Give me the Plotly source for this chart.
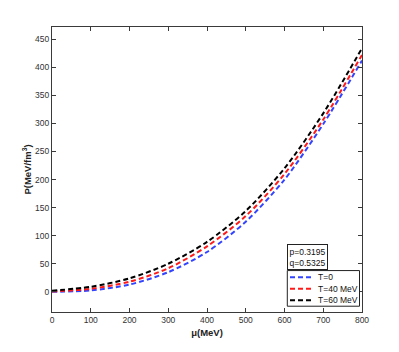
import plotly.graph_objects as go

mu = [0, 100, 200, 300, 400, 500, 600, 700, 800]
p_t0 = [0, 2.5, 13, 35, 71, 125, 200, 299, 412]
p_t40 = [0.5, 5.5, 18, 42, 81, 135, 210, 307, 422]
p_t60 = [2, 9, 24, 50, 89, 144, 220, 318, 434]

series_names = ["T=0", "T=40 MeV", "T=60 MeV"]
series_colors = ["#3344ff", "#ff1a1a", "#000000"]
series_values = [p_t0, p_t40, p_t60]

x_ticks = [0, 100, 200, 300, 400, 500, 600, 700, 800]
y_ticks = [0, 50, 100, 150, 200, 250, 300, 350, 400, 450]

font_family = "Liberation Sans, Arial, Helvetica, sans-serif"
OFF = 8  # page body margin
W, H = 399 - OFF, 352 - OFF
ML, MR, MT, MB = 52 - OFF, 37, 27 - OFF, 39.5
PW, PH = W - ML - MR, H - MT - MB
PLOT_LEFT, PLOT_BOTTOM = 52, 312.5


def px(x):
    return (x - PLOT_LEFT) / PW


def py(y):
    return (PLOT_BOTTOM - y) / PH


fig = go.Figure()
for name, color, vals in zip(series_names, series_colors, series_values):
    fig.add_trace(go.Scatter(
        x=mu, y=vals, mode="lines", name=name, showlegend=False,
        line=dict(color=color, width=2, dash="5px,3px", shape="spline", smoothing=0.8),
    ))

axis_common = dict(
    showline=True, linecolor="#3a3a3a", linewidth=1, mirror="ticks",
    ticks="inside", ticklen=4, tickcolor="#3a3a3a", showgrid=False, zeroline=False,
    automargin=False,
    tickfont=dict(family=font_family, size=8.5, color="#333"),
)

fig.update_layout(
    width=W, height=H,
    margin=dict(l=ML, r=MR, t=MT, b=MB, pad=0, autoexpand=False),
    plot_bgcolor="white", paper_bgcolor="white",
    font=dict(family=font_family, color="#222"),
    xaxis=dict(range=[0, 800], tickvals=x_ticks,
               title=dict(text="<b>μ(MeV)</b>", font=dict(size=9.5, family=font_family), standoff=5),
               **axis_common),
    yaxis=dict(range=[-35.9, 471.8], tickvals=y_ticks,
               title=dict(text="<b>P(MeV/fm<sup>3</sup>)</b>", font=dict(size=9.5, family=font_family), standoff=1),
               **axis_common),
    showlegend=False,
)

# parameter text box
fig.add_annotation(
    x=px(287.3), y=py(270.5), xref="paper", yref="paper", xanchor="left", yanchor="bottom",
    text="p=0.3195<br>q=0.5325", showarrow=False, align="left",
    font=dict(size=8.5, family=font_family, color="#111"),
    bordercolor="#222", borderwidth=1, bgcolor="white", borderpad=1.5,
)

# legend box (drawn manually, MATLAB-like compact rows)
fig.add_shape(type="rect", xref="paper", yref="paper",
              x0=px(287.3), x1=px(359.5), y0=py(306.7), y1=py(271),
              line=dict(color="#222", width=1), fillcolor="white", layer="above")
row_y = [277.7, 289.3, 300.7]
for name, color, ry in zip(series_names, series_colors, row_y):
    fig.add_shape(type="line", xref="paper", yref="paper",
                  x0=px(290), x1=px(314), y0=py(ry), y1=py(ry),
                  line=dict(color=color, width=2, dash="5px,3px"), layer="above")
    fig.add_annotation(x=px(316), y=py(ry), xref="paper", yref="paper",
                       xanchor="left", yanchor="middle", text=name, showarrow=False,
                       font=dict(size=8.5, family=font_family, color="#111"))

fig.write_html("out.html")
